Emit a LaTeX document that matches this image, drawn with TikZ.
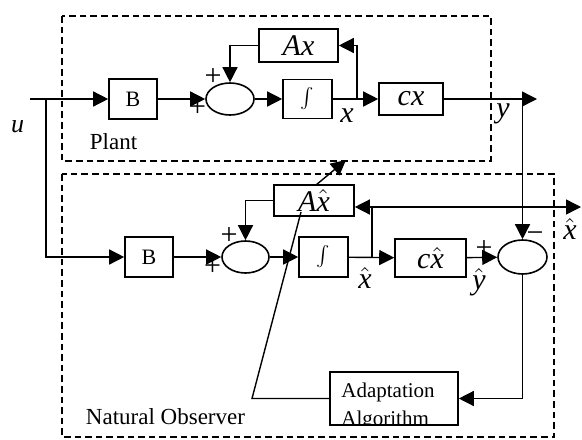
\documentclass[tikz,border=0pt]{standalone}
\usepackage{fontspec}
\setmainfont{Liberation Serif}
\usetikzlibrary{arrows.meta,shapes.geometric}
\newcommand{\hatit}[1]{$\hat{\textit{#1}}$}
\newcommand{\intsym}{{\fontsize{9}{9}\selectfont$\int$}}

\begin{document}
\begin{tikzpicture}[x=0.5pt,y=-0.5pt,
	blk/.style={draw, line width=0.8pt, inner sep=0pt},
	sumblk/.style={draw, ellipse, line width=0.8pt, inner sep=0pt, minimum width=24pt, minimum height=16pt},
	sig/.style={line width=0.7pt},
	arr/.style={sig, -{Triangle[length=7.5pt,width=7.5pt]}},
	frame/.style={line width=0.7pt, dash pattern=on 3.3pt off 2pt},
	lbl/.style={font=\fontsize{15}{15}\selectfont\itshape, inner sep=0pt},
	sgn/.style={font=\fontsize{15}{15}\selectfont, inner sep=0pt},
	txt/.style={font=\fontsize{11.5}{12}\selectfont, inner sep=0pt}]
			%%%%% START %%%%%
			\useasboundingbox (0,0) rectangle (582,439);
			
			\draw[frame] (62,16) rectangle (491,161);
			\draw[frame] (62,174) rectangle (554,437);
			
			%%%%% PLANT %%%%%
			\node[blk, minimum width=24pt, minimum height=20pt, font=\fontsize{11}{11}\selectfont] (bp) at (133,99) {B};
			\node[sumblk] (sp) at (230,99) {};
			\node[blk, minimum width=24.5pt, minimum height=19.5pt] (ip) at (307.5,99) {\intsym};
			\node[blk, lbl, minimum width=39.5pt, minimum height=16.5pt] (axp) at (298.5,45.5) {Ax\hspace{10pt}};
			\node[blk, lbl, minimum width=32pt, minimum height=16pt] (cxp) at (411,99) {cx\hspace{9pt}};
			
			\coordinate (uin) at (30,99);
			\coordinate (ub) at (46,99);
			\coordinate (xp) at (357,99);
			\coordinate (yout) at (537,99);
			\coordinate (yb) at (522.5,99);
			
			\draw[arr] (uin) -- (bp);
			\draw[arr] (bp) -- (sp);
			\draw[arr] (axp.west) -| (sp.north);
			\draw[arr] (sp) -- (ip);
			\draw[arr] (ip) -- (cxp);
			\draw[arr] (xp) |- (axp.east);
			\draw[arr] (cxp) -- (yout);
			
			%%%%% OBSERVER %%%%%
			\node[blk, minimum width=24pt, minimum height=20pt, font=\fontsize{11}{11}\selectfont] (bo) at (149,257) {B};
			\node[sumblk, minimum width=23.5pt] (so) at (245.5,257) {};
			\node[blk, minimum width=24.5pt, minimum height=20pt] (io) at (323.5,257) {\intsym};
			\node[blk, lbl, minimum width=40pt, minimum height=15.5pt] (axo) at (314,200.5) {A\hatit{x}\hspace{4pt}};
			\node[blk, lbl, minimum width=35.5pt, minimum height=19pt] (cxo) at (430.5,258) {c\hatit{x}\hspace{11pt}};
			\node[sumblk, minimum width=24.5pt, minimum height=17pt] (se) at (522.5,257) {};
			\node[blk, minimum width=64pt, minimum height=26.5pt] (ad) at (394,398.5) {};
			
			\coordinate (xo) at (372,257);
			\coordinate (xhout) at (581,207);
			\coordinate (adlow) at (252,398.5);
			\coordinate (adtop) at (301,212);
			\coordinate (tunefrom) at (316,185);
			\coordinate (tuneto) at (346,160);
			
			\draw[arr] (ub) |- (bo);
			\draw[arr] (bo) -- (so);
			\draw[arr] (axo.west) -| (so.north);
			\draw[arr] (so) -- (io);
			\draw[arr] (io) -- (cxo);
			\draw[arr] (xo) |- (axo.east |- xhout);
			\draw[arr] (xo |- xhout) -- (xhout);
			\draw[arr] (cxo) -- (se);
			\draw[arr] (yb) -- (se.north);
			\draw[arr] (se.south) |- (ad.east);
			\draw[sig] (ad.west) -- (adlow) -- (adtop);
			\draw[arr] (tunefrom) -- (tuneto);
			
			\begin{scope}
				\clip (ad.south west) rectangle (ad.north east);
				\node[anchor=base west, inner sep=0pt, font=\fontsize{10.5}{12}\selectfont] (adt1) at (341,397) {Adaptation};
				\node[anchor=base west, inner sep=0pt, font=\fontsize{10.5}{12}\selectfont] (adt2) at (341,425) {Algorithm};
			\end{scope}
			
			%%%%% LABELS %%%%%
			\node[lbl, font=\fontsize{13}{13}\selectfont\itshape] (ulbl) at (17.5,127) {u};
			\node[txt] (plbl) at (113.5,142) {Plant};
			\node[txt] (olbl) at (165.5,416.5) {Natural Observer};
			\node[lbl] (xlbl) at (347,116) {x};
			\node[lbl] (ylbl) at (503,114) {y};
			\node[lbl] (xhlbl) at (365,278) {\hatit{x}};
			\node[lbl] (yhlbl) at (479,282) {\hatit{y}};
			\node[lbl] (xhrlbl) at (570,229) {\hatit{x}};
			
			\node[sgn] (pl1) at (213,77.5) {+};
			\node[sgn] (pl2) at (197.5,108.5) {+};
			\node[sgn] (pl3) at (229,236) {+};
			\node[sgn] (pl4) at (212.5,267) {+};
			\node[sgn] (pl5) at (484,249) {+};
			\node[sgn] (mn1) at (535,237) {−};
			%%%%% END %%%%%
\end{tikzpicture}
\end{document}
